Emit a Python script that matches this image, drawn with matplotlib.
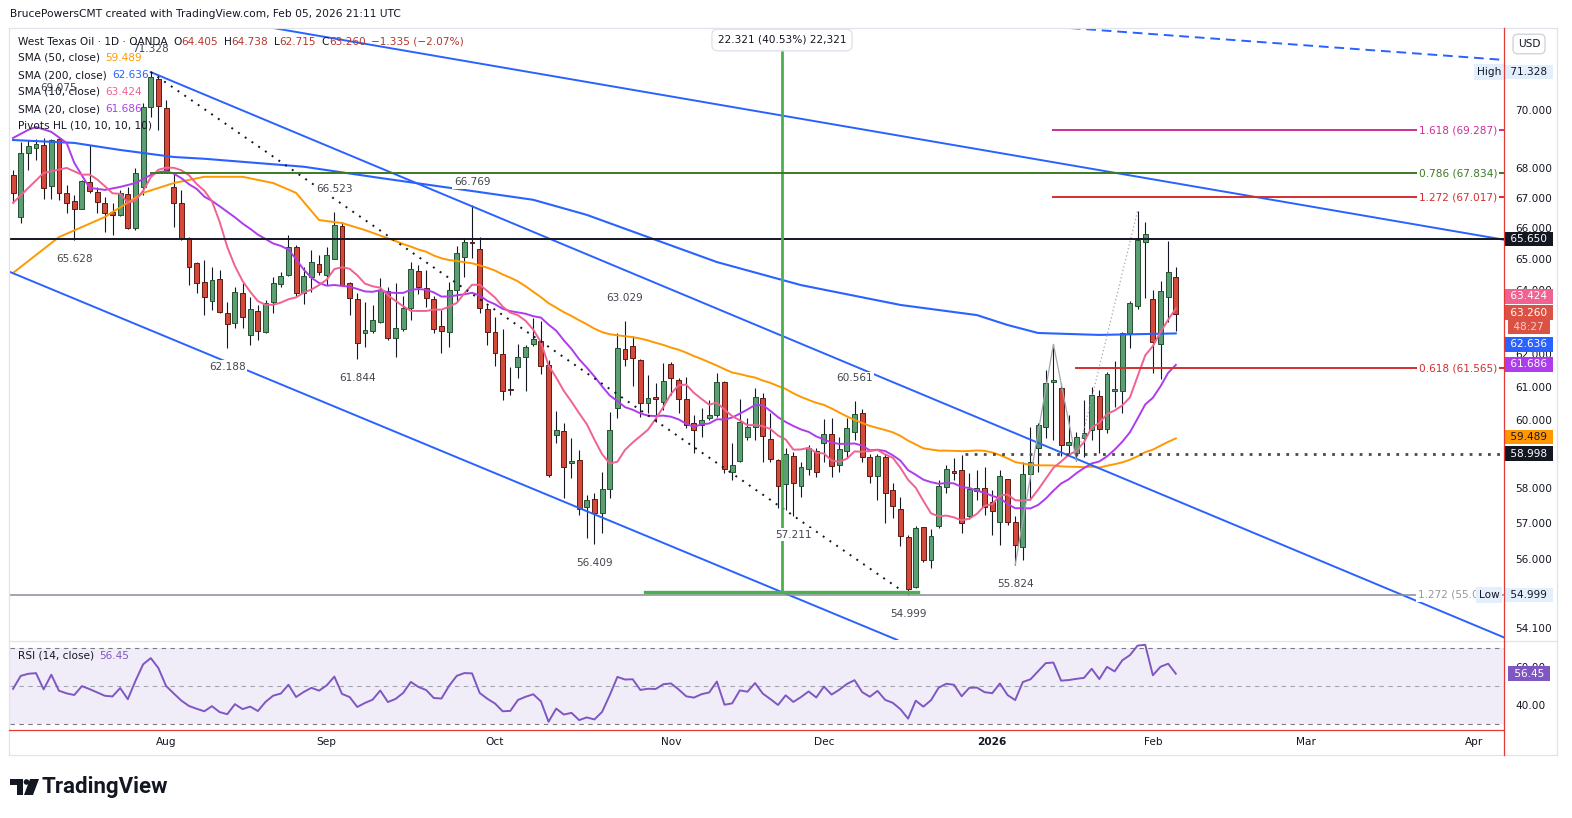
import numpy as np
import pandas as pd
import matplotlib
matplotlib.use("Agg")
import matplotlib.pyplot as plt
import matplotlib.transforms as mtransforms
from matplotlib.text import Annotation
from matplotlib.lines import Line2D
from matplotlib.patches import Polygon, Circle
from matplotlib.ticker import FixedLocator, NullLocator, NullFormatter, FormatStrFormatter

plt.rcParams['font.family'] = ['DejaVu Sans']

W, H = 1572, 818
FS = 7.6
INK = '#131722'
RED = '#B5372F'
BLUE = '#2962FF'
ORANGE = '#FF9800'
PINK = '#F06292'
PURPLE = '#AE3CEC'
RSI_COL = '#7E57C2'

# ---- daily bars (WTI CFD, OANDA) ----
first_day = '2025-07-03'
holidays = ['2025-07-04', '2025-12-25', '2026-01-01']

opens = [67.77, 66.37, 68.52, 68.69, 68.79, 67.41, 68.98, 67.17, 66.90, 66.64,
         67.54, 67.20, 66.84, 66.54, 66.44, 67.14, 66.01, 67.37, 70.10, 71.09,
         70.07, 67.37, 66.84, 65.68, 64.87, 64.26, 63.66, 64.36, 63.28, 62.96,
         63.91, 62.59, 63.34, 62.68, 63.62, 64.20, 64.48, 65.39, 63.91, 64.42,
         64.84, 64.48, 65.00, 66.07, 64.23, 63.72, 62.65, 62.71, 62.99, 63.97,
         62.49, 62.78, 63.43, 64.61, 64.07, 63.72, 62.87, 62.68, 64.00, 65.06,
         65.55, 65.32, 63.40, 62.68, 62.00, 60.93, 61.60, 61.91, 62.31, 62.40,
         61.66, 59.55, 59.67, 58.72, 58.81, 57.46, 57.68, 57.28, 57.97, 60.36,
         62.15, 62.25, 61.81, 60.51, 60.69, 60.54, 61.69, 61.20, 60.63, 59.90,
         59.85, 60.06, 60.15, 61.14, 58.46, 58.78, 59.49, 59.79, 60.66, 59.43,
         58.81, 58.12, 58.93, 58.06, 58.55, 59.08, 59.31, 59.58, 58.67, 59.08,
         59.64, 60.21, 58.90, 58.35, 58.90, 57.94, 57.40, 56.60, 55.21, 56.89,
         55.96, 56.92, 58.03, 58.49, 58.52, 57.20, 57.91, 58.00, 57.60, 57.03,
         58.26, 57.03, 56.32, 58.41, 59.17, 59.79, 61.14, 60.96, 59.26, 59.02,
         59.46, 59.70, 60.72, 59.73, 60.87, 60.87, 62.65, 63.50, 65.55, 63.72,
         62.31, 63.78, 64.405]
highs = [67.94, 68.89, 68.95, 69.00, 69.02, 69.00, 69.075, 67.44, 67.10, 67.60,
         68.79, 67.37, 67.04, 66.84, 67.27, 67.37, 68.01, 70.24, 71.328, 71.23,
         70.35, 67.84, 67.27, 65.70, 64.90, 64.97, 64.74, 64.65, 63.62, 64.10,
         64.23, 63.78, 63.53, 63.69, 64.42, 64.58, 65.78, 65.45, 64.74, 65.29,
         65.13, 65.39, 66.523, 66.21, 64.26, 63.91, 63.62, 63.53, 64.39, 64.10,
         64.23, 63.81, 64.90, 64.81, 64.65, 63.81, 63.37, 64.26, 65.42, 65.68,
         66.769, 65.72, 63.53, 63.15, 62.78, 61.60, 62.31, 62.28, 63.12, 63.03,
         61.81, 60.26, 59.90, 59.46, 59.11, 57.80, 57.86, 58.46, 60.24, 62.65,
         63.029, 62.56, 61.85, 61.35, 61.11, 61.72, 61.75, 61.26, 61.29, 60.15,
         60.36, 60.60, 61.42, 61.17, 59.31, 60.63, 60.06, 60.96, 60.81, 60.21,
         58.84, 59.17, 59.05, 58.76, 59.26, 59.17, 60.03, 60.06, 59.49, 60.06,
         60.561, 60.33, 58.99, 58.99, 58.99, 58.14, 57.74, 56.66, 56.92, 56.89,
         56.83, 58.23, 58.67, 58.87, 58.96, 58.43, 58.52, 58.61, 57.94, 58.52,
         58.26, 57.20, 58.76, 59.79, 59.90, 61.51, 62.30, 61.11, 60.15, 59.64,
         60.60, 60.99, 60.90, 61.45, 61.78, 62.68, 63.66, 66.57, 66.21, 64.00,
         64.29, 65.59, 64.738]
lows = [66.84, 66.17, 67.94, 68.28, 66.97, 66.97, 66.94, 66.51, 65.628, 66.62,
        67.17, 66.51, 65.88, 65.78, 66.40, 65.98, 65.94, 67.10, 69.76, 69.31,
        67.84, 66.04, 65.62, 64.16, 63.91, 63.21, 63.37, 63.28, 62.188, 62.81,
        62.81, 62.28, 62.43, 62.65, 63.28, 64.10, 64.45, 63.81, 63.56, 63.94,
        64.48, 64.16, 64.99, 64.14, 63.21, 61.844, 62.22, 62.65, 62.97, 62.43,
        61.91, 62.71, 63.06, 63.87, 63.47, 62.65, 62.03, 62.22, 63.62, 64.42,
        65.03, 63.28, 62.28, 61.63, 60.60, 60.75, 61.26, 60.87, 62.25, 61.39,
        58.32, 59.31, 57.71, 58.29, 57.23, 56.57, 56.409, 56.72, 57.71, 60.06,
        61.63, 61.02, 60.09, 60.21, 59.94, 60.30, 60.75, 60.21, 59.76, 59.02,
        59.49, 60.00, 60.09, 58.43, 58.23, 58.76, 59.40, 59.40, 58.76, 58.76,
        57.43, 57.37, 57.211, 57.74, 58.38, 58.32, 58.76, 58.32, 58.46, 58.87,
        59.40, 58.76, 58.14, 57.66, 57.00, 57.14, 56.35, 54.999, 55.19, 55.90,
        55.74, 56.86, 57.86, 58.23, 56.72, 57.11, 57.66, 57.23, 56.66, 56.38,
        56.94, 55.824, 55.96, 57.66, 58.46, 59.46, 59.40, 58.93, 58.93, 58.80,
        58.90, 59.40, 59.02, 59.61, 60.39, 60.21, 62.18, 63.40, 63.75, 61.42,
        61.23, 63.00, 62.715]
closes = [67.17, 68.52, 68.76, 68.83, 67.34, 68.95, 67.17, 66.84, 66.64, 67.57,
          67.24, 66.87, 66.51, 66.44, 67.17, 66.01, 67.84, 70.10, 71.16, 70.14,
          67.94, 66.84, 65.68, 64.74, 64.23, 63.78, 64.32, 63.31, 62.93, 63.94,
          63.15, 63.40, 62.71, 63.59, 64.23, 64.45, 65.39, 63.91, 64.45, 64.90,
          64.58, 65.13, 66.11, 64.16, 63.75, 62.34, 62.74, 63.06, 64.00, 62.49,
          62.81, 63.43, 64.68, 64.10, 63.75, 62.78, 62.71, 64.00, 65.19, 65.55,
          65.52, 63.43, 62.68, 62.03, 60.87, 60.90, 61.91, 62.22, 62.46, 61.63,
          58.38, 59.70, 58.61, 58.78, 57.40, 57.66, 57.28, 57.97, 59.70, 62.18,
          61.84, 61.88, 60.51, 60.66, 60.63, 61.17, 61.26, 60.63, 59.85, 59.70,
          60.00, 60.15, 61.14, 58.55, 58.67, 59.94, 59.79, 60.69, 59.52, 58.84,
          58.06, 58.99, 58.14, 58.61, 59.17, 58.46, 59.58, 58.64, 59.14, 59.76,
          60.18, 58.90, 58.35, 58.93, 57.86, 57.48, 56.63, 55.16, 56.86, 55.96,
          56.63, 58.06, 58.55, 58.43, 57.00, 57.97, 58.00, 57.46, 57.34, 58.35,
          57.03, 56.38, 58.41, 58.76, 59.85, 61.11, 61.20, 59.26, 59.34, 59.49,
          59.61, 60.75, 59.73, 61.39, 60.93, 62.65, 63.59, 65.62, 65.81, 62.37,
          63.97, 64.595, 63.26]

# moving averages where the window reaches back before the first bar
sma10_head_idx = [0, 2, 4, 7]
sma10_head = [66.84, 67.34, 67.84, 68.01]
sma20_head_idx = [0, 2, 3, 5, 7, 8, 10, 12, 14, 16, 18]
sma20_head = [69.03, 69.31, 69.41, 69.24, 68.86, 68.18, 67.34, 67.27, 67.37, 67.50, 67.77]
sma50_head_idx = [0, 6, 12, 17, 21, 25, 30, 34, 37, 40, 43, 46]
sma50_head = [64.55, 65.71, 66.37, 67.17, 67.50, 67.71, 67.71, 67.50, 67.17, 66.27, 66.17, 65.94]
sma200_idx = [0, 8, 14, 21, 25, 38, 48, 59, 68, 75, 83, 92, 103, 116, 126, 130, 134, 142, 152]
sma200_val = [68.96, 68.86, 68.62, 68.38, 68.32, 68.05, 67.67, 67.27, 66.94, 66.44, 65.71,
              64.90, 64.16, 63.53, 63.21, 62.90, 62.65, 62.59, 62.636]
rsi_seed_gain, rsi_seed_loss = 0.33, 0.35

# pivots HL labels
pivot_bars = [18, 6, 42, 60, 80, 110, 8, 28, 45, 76, 102, 117, 131]
pivot_vals = [71.328, 69.075, 66.523, 66.769, 63.029, 60.561,
              65.628, 62.188, 61.844, 56.409, 57.211, 54.999, 55.824]
pivot_side = ['H', 'H', 'H', 'H', 'H', 'H', 'L', 'L', 'L', 'L', 'L', 'L', 'L']

# drawings
level_black = 65.650
level_low = 54.999
level_support = 58.998
fib_names = ['1.618', '0.786', '1.272', '0.618']
fib_vals = [69.287, 67.834, 67.017, 61.565]
fib_start = [136, 18, 136, 139]
fib_colors = ['#CC2E98', '#3B7A24', '#D32F2F', '#D32F2F']
lineA = ([18, 195], [71.328, 53.84])
lineB = ([34, 195], [72.91, 65.62])
lineC = ([-0.4, 115.6], [64.58, 53.78])
line_dash = ([134.2, 195], [72.99, 71.76])
dotted_bars, dotted_vals = [18, 117], [71.328, 54.999]
zig_bars, zig_vals = [131, 136, 139], [55.824, 62.30, 58.80]
zig_ext_bars, zig_ext_vals = [139, 147], [58.80, 66.57]
range_base, range_size, range_pct = 55.07, 22.321, 40.53
range_bar, range_span = 100.5, (82.6, 118.3)
support_start = 124.4
price_ticks = [54.1, 56, 57, 58, 60, 61, 62, 64, 65, 66, 67, 68, 70]

n = len(closes)
idx = np.arange(n)
o, hi, lo, c = map(np.array, (opens, highs, lows, closes))
cs = pd.Series(closes)

cbd = pd.offsets.CustomBusinessDay(holidays=holidays)
dates = pd.date_range(first_day, periods=200, freq=cbd)

fig = plt.figure(figsize=(W / 100, H / 100), dpi=100, facecolor='white')


def fx(x):
    return x / W


def fy(y):
    return 1 - y / H


def axx(x):
    return (x - 10) / 1494


ax = fig.add_axes([fx(10), fy(640), fx(1494), (640 - 28) / H])
rx = fig.add_axes([fx(10), fy(729), fx(1494), (729 - 641) / H], sharex=ax)
for a in (ax, rx):
    for s in a.spines.values():
        s.set_visible(False)
    a.set_facecolor('white')

ax.set_yscale('log')
ax.set_ylim(53.78, 72.91)
ax.set_xlim(-0.4, 194.9)
ax.yaxis.tick_right()
ax.yaxis.set_major_locator(FixedLocator(price_ticks))
ax.yaxis.set_major_formatter(FormatStrFormatter('%.3f'))
ax.yaxis.set_minor_locator(NullLocator())
ax.yaxis.set_minor_formatter(NullFormatter())
ax.tick_params(axis='y', length=0, pad=8, labelsize=FS, labelcolor=INK)
ax.tick_params(axis='x', length=0, labelbottom=False)

# candles
up = c >= o
ax.vlines(idx, lo, hi, color=INK, lw=0.8, zorder=2)
bot = np.minimum(o, c)
top = np.maximum(np.maximum(o, c), bot * 1.0005)
for mask, fc, ec in ((up, '#5B9E74', '#24522F'), (~up, '#D4493A', '#5E1B15')):
    ax.bar(idx[mask], top[mask] - bot[mask], bottom=bot[mask], width=0.64,
           color=fc, edgecolor=ec, linewidth=0.7, zorder=3)

# moving averages
sma10 = cs.rolling(10).mean()
sma20 = cs.rolling(20).mean()
sma50 = cs.rolling(50).mean()
ax.plot(sma50_head_idx + list(idx[49:]), sma50_head + list(sma50[49:]), color=ORANGE, lw=1.4, zorder=4)
ax.plot(sma200_idx, sma200_val, color=BLUE, lw=1.5, zorder=4)
ax.plot(sma20_head_idx + list(idx[19:]), sma20_head + list(sma20[19:]), color=PURPLE, lw=1.4, zorder=4)
ax.plot(sma10_head_idx + list(idx[9:]), sma10_head + list(sma10[9:]), color=PINK, lw=1.4, zorder=4)

# drawings
blend = mtransforms.blended_transform_factory(ax.transAxes, ax.transData)
ax.plot(*lineA, color=BLUE, lw=1.4, zorder=5)
ax.plot(*lineB, color=BLUE, lw=1.4, zorder=5)
ax.plot(*lineC, color=BLUE, lw=1.4, zorder=5)
ax.plot(*line_dash, color=BLUE, lw=1.4, ls=(0, (5, 3)), zorder=5)
ax.plot(dotted_bars, dotted_vals, color=INK, lw=1.4, ls=(0, (1, 3.2)), zorder=5)
ax.plot(zig_bars, zig_vals, color='#A3A6AE', lw=0.9, zorder=5)
ax.plot(zig_ext_bars, zig_ext_vals, color='#A3A6AE', lw=0.9, ls=(0, (1, 2)), zorder=5)
ax.axhline(level_black, color=INK, lw=1.4, zorder=5)
ax.axhline(level_low, color='#8A8D96', lw=1.1, zorder=5)
ax.plot([support_start, 195], [level_support] * 2, color='#4A4A4A', lw=2.0,
        ls=(0, (1, 2.3)), dash_capstyle='butt', zorder=5)
ax.plot([range_bar, range_bar], [range_base, range_base + range_size], color='#4CAF50', lw=2.0, zorder=5)
ax.plot(range_span, [range_base] * 2, color='#4CAF50', lw=2.4, zorder=5)
for name, v, s, col in zip(fib_names, fib_vals, fib_start, fib_colors):
    ax.plot([s, 195], [v, v], color=col, lw=1.4, zorder=5)
    ax.text(axx(1458), v, f'{name} ({v:.3f})', transform=blend, ha='center', va='center',
            color=col, fontsize=FS, zorder=6, clip_on=True,
            bbox=dict(boxstyle='square,pad=0.2', fc='white', ec='none'))
ax.text(axx(1418), level_low, '1.272 (55.0', transform=blend, ha='left', va='center',
        color='#9598A1', fontsize=FS, zorder=6, clip_on=True,
        bbox=dict(boxstyle='square,pad=0.2', fc='white', ec='none'))
ax.text(axx(1489), 71.328, 'High', transform=blend, ha='center', va='center', color=INK,
        fontsize=FS, zorder=8, bbox=dict(boxstyle='square,pad=0.25', fc='#E3EFFD', ec='none'))
ax.text(axx(1489), level_low, 'Low', transform=blend, ha='center', va='center', color=INK,
        fontsize=FS, zorder=8, bbox=dict(boxstyle='square,pad=0.25', fc='#E3EFFD', ec='none'))

# pivot labels
for b, v, side in zip(pivot_bars, pivot_vals, pivot_side):
    off = (49 if b == 6 else 23) if side == 'H' else -19
    ax.annotate(f'{v:.3f}', xy=(b, v), xytext=(0, off * 0.72), textcoords='offset points',
                ha='center', va='center', fontsize=FS, color='#434651', zorder=7,
                bbox=dict(boxstyle='square,pad=0.15', fc='white', ec='none'))


# price scale tags
def tag(a, value, text, bg, fg='white', dy=0):
    t = mtransforms.offset_copy(mtransforms.blended_transform_factory(a.transAxes, a.transData),
                                fig=fig, y=dy, units='dots')
    a.text(axx(1529), value, ' ' + text + ' ', transform=t, ha='center', va='center', color=fg,
           fontsize=FS, zorder=20, clip_on=False,
           bbox=dict(boxstyle='square,pad=0.22', fc=bg, ec='none'))


tag(ax, 71.328, '71.328', '#E3EFFD', INK)
tag(ax, level_black, '65.650', INK)
tag(ax, 63.424, '63.424', PINK, dy=12)
tag(ax, c[-1], '63.260', '#DB5143', dy=1)
tag(ax, c[-1], '48:27', '#DB5143', fg='#F8D0CA', dy=-13)
tag(ax, 62.636, '62.636', BLUE, dy=-11)
tag(ax, 61.686, '61.686', PURPLE)
tag(ax, 59.489, '59.489', ORANGE, INK)
tag(ax, level_support, '58.998', INK)
tag(ax, level_low, '54.999', '#E3EFFD', INK)

# RSI pane
chg = np.diff(c)
g, l = rsi_seed_gain, rsi_seed_loss
rsi = [100 - 100 / (1 + g / l)]
for d in chg:
    g = (g * 13 + max(d, 0)) / 14
    l = (l * 13 + max(-d, 0)) / 14
    rsi.append(100 - 100 / (1 + g / l))
rx.set_ylim(27.4, 73.7)
rx.axhspan(30, 70, color=RSI_COL, alpha=0.1, lw=0, zorder=0)
for lev, col in ((70, '#787B86'), (50, '#A3A6AF'), (30, '#787B86')):
    rx.axhline(lev, color=col, lw=0.8, ls=(0, (4, 4)), zorder=1)
rx.plot(idx, rsi, color=RSI_COL, lw=1.4, zorder=3)
rx.yaxis.tick_right()
rx.set_yticks([40, 60])
rx.yaxis.set_major_formatter(FormatStrFormatter('%.2f'))
rx.tick_params(axis='y', length=0, pad=8, labelsize=FS, labelcolor=INK)
tag(rx, 56.45, '56.45', RSI_COL)

# time axis
month_idx = [i for i in range(1, 196) if dates[i].month != dates[i - 1].month]
month_lbl = [str(dates[i].year) if dates[i].month == 1 else dates[i].strftime('%b') for i in month_idx]
rx.set_xticks(month_idx, month_lbl)
rx.tick_params(axis='x', length=0, pad=6, labelsize=FS, labelcolor=INK)
for t in rx.get_xticklabels():
    if t.get_text().isdigit():
        t.set_fontweight('bold')
ax.set_xlim(-0.4, 194.9)

# frame
for xs, ys, col in (([9, 1557], [28, 28], '#E0E3EB'), ([9, 1557], [640.5, 640.5], '#E0E3EB'),
                    ([9, 1557], [755, 755], '#E0E3EB'), ([9, 9], [28, 755], '#E0E3EB'),
                    ([1557, 1557], [28, 755], '#E0E3EB'),
                    ([1504, 1504], [28, 755], '#E53935'), ([9, 1504], [729.5, 729.5], '#E53935')):
    fig.add_artist(Line2D([fx(v) for v in xs], [fy(v) for v in ys], color=col, lw=0.9, zorder=50))


# header and legend
def legend_row(y, parts, x=18):
    prev = None
    for txt, col, gap in parts:
        if prev is None:
            prev = fig.text(fx(x), fy(y), txt, color=col, fontsize=FS, va='center', ha='left', zorder=60)
        else:
            a = Annotation(txt, xy=(1, 0.5), xycoords=prev, xytext=(gap, 0), textcoords='offset points',
                           color=col, fontsize=FS, va='center', ha='left', zorder=60)
            fig.add_artist(a)
            prev = a


fig.text(fx(10), fy(14), 'BrucePowersCMT created with TradingView.com, Feb 05, 2026 21:11 UTC',
         fontsize=7.7, color=INK, va='center', ha='left')
legend_row(42, [('West Texas Oil · 1D · OANDA', INK, 0),
                ('O', INK, 4), (f'{o[-1]:.3f}', RED, 0),
                ('H', INK, 4), (f'{hi[-1]:.3f}', RED, 0),
                ('L', INK, 4), (f'{lo[-1]:.3f}', RED, 0),
                ('C', INK, 4), (f'{c[-1]:.3f}', RED, 0),
                ('−1.335 (−2.07%)', RED, 4)])
legend_row(58, [('SMA (50, close)', INK, 0), ('59.489', ORANGE, 4)])
legend_row(75, [('SMA (200, close)', INK, 0), ('62.636', BLUE, 4)])
legend_row(92, [('SMA (10, close)', INK, 0), ('63.424', PINK, 4)])
legend_row(109, [('SMA (20, close)', INK, 0), ('61.686', PURPLE, 4)])
legend_row(126, [('Pivots HL (10, 10, 10, 10)', INK, 0)])
legend_row(656, [('RSI (14, close)', INK, 0), ('56.45', RSI_COL, 4)])

fig.text(fx(782), fy(40), f'{range_size:.3f} ({range_pct:.2f}%) {round(range_size * 1000):,}',
         fontsize=FS, color=INK, ha='center', va='center', zorder=60,
         bbox=dict(boxstyle='round,pad=0.55', fc='white', ec='#E0E3EB'))
fig.text(fx(1529), fy(44), 'USD', fontsize=FS, color=INK, ha='center', va='center', zorder=60,
         bbox=dict(boxstyle='round,pad=0.45', fc='white', ec='#D1D4DC'))

# TradingView logo
ident = mtransforms.IdentityTransform()
fig.add_artist(Polygon([(10, H - 779), (23, H - 779), (23, H - 795), (17, H - 795), (17, H - 785), (10, H - 785)],
                       closed=True, fc=INK, ec='none', transform=ident))
fig.add_artist(Circle((26.5, H - 782), 2.8, fc=INK, ec='none', transform=ident))
fig.add_artist(Polygon([(30, H - 779), (39, H - 779), (33, H - 795), (24, H - 795)],
                       closed=True, fc=INK, ec='none', transform=ident))
fig.text(fx(42), fy(787), 'TradingView', fontsize=16, fontweight='bold', family='Roboto',
         color=INK, ha='left', va='center')

fig.savefig('out.png', dpi=100, facecolor='white')
